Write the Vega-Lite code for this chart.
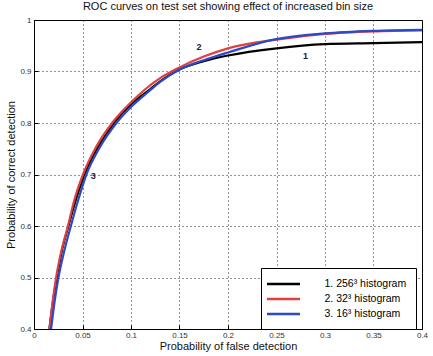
{
  "$schema": "https://vega.github.io/schema/vega-lite/v6.json",
  "autosize": "none",
  "width": 388,
  "height": 309,
  "padding": {"left": 34, "top": 20, "right": 11, "bottom": 27},
  "background": "white",
  "title": {
    "text": "ROC curves on test set showing effect of increased bin size",
    "font": "Liberation Sans",
    "fontSize": 11,
    "fontWeight": "normal",
    "color": "#111",
    "frame": "group",
    "offset": 4
  },
  "datasets": {
    "roc": [
      {"curve": "1. 256³ histogram", "fpr": 0.0159, "pcd": 0.40},
      {"curve": "1. 256³ histogram", "fpr": 0.0193, "pcd": 0.45},
      {"curve": "1. 256³ histogram", "fpr": 0.0235, "pcd": 0.50},
      {"curve": "1. 256³ histogram", "fpr": 0.0285, "pcd": 0.55},
      {"curve": "1. 256³ histogram", "fpr": 0.0355, "pcd": 0.60},
      {"curve": "1. 256³ histogram", "fpr": 0.0430, "pcd": 0.65},
      {"curve": "1. 256³ histogram", "fpr": 0.0520, "pcd": 0.70},
      {"curve": "1. 256³ histogram", "fpr": 0.0650, "pcd": 0.75},
      {"curve": "1. 256³ histogram", "fpr": 0.0825, "pcd": 0.80},
      {"curve": "1. 256³ histogram", "fpr": 0.100, "pcd": 0.836},
      {"curve": "1. 256³ histogram", "fpr": 0.120, "pcd": 0.866},
      {"curve": "1. 256³ histogram", "fpr": 0.130, "pcd": 0.881},
      {"curve": "1. 256³ histogram", "fpr": 0.150, "pcd": 0.904},
      {"curve": "1. 256³ histogram", "fpr": 0.175, "pcd": 0.920},
      {"curve": "1. 256³ histogram", "fpr": 0.200, "pcd": 0.931},
      {"curve": "1. 256³ histogram", "fpr": 0.250, "pcd": 0.945},
      {"curve": "1. 256³ histogram", "fpr": 0.300, "pcd": 0.953},
      {"curve": "1. 256³ histogram", "fpr": 0.350, "pcd": 0.955},
      {"curve": "1. 256³ histogram", "fpr": 0.400, "pcd": 0.957},
      {"curve": "2. 32³ histogram", "fpr": 0.0160, "pcd": 0.40},
      {"curve": "2. 32³ histogram", "fpr": 0.0190, "pcd": 0.45},
      {"curve": "2. 32³ histogram", "fpr": 0.0228, "pcd": 0.50},
      {"curve": "2. 32³ histogram", "fpr": 0.0280, "pcd": 0.55},
      {"curve": "2. 32³ histogram", "fpr": 0.0350, "pcd": 0.60},
      {"curve": "2. 32³ histogram", "fpr": 0.0415, "pcd": 0.65},
      {"curve": "2. 32³ histogram", "fpr": 0.0505, "pcd": 0.70},
      {"curve": "2. 32³ histogram", "fpr": 0.0630, "pcd": 0.75},
      {"curve": "2. 32³ histogram", "fpr": 0.0805, "pcd": 0.80},
      {"curve": "2. 32³ histogram", "fpr": 0.100, "pcd": 0.840},
      {"curve": "2. 32³ histogram", "fpr": 0.115, "pcd": 0.866},
      {"curve": "2. 32³ histogram", "fpr": 0.130, "pcd": 0.887},
      {"curve": "2. 32³ histogram", "fpr": 0.150, "pcd": 0.908},
      {"curve": "2. 32³ histogram", "fpr": 0.175, "pcd": 0.929},
      {"curve": "2. 32³ histogram", "fpr": 0.200, "pcd": 0.945},
      {"curve": "2. 32³ histogram", "fpr": 0.250, "pcd": 0.962},
      {"curve": "2. 32³ histogram", "fpr": 0.300, "pcd": 0.973},
      {"curve": "2. 32³ histogram", "fpr": 0.350, "pcd": 0.978},
      {"curve": "2. 32³ histogram", "fpr": 0.400, "pcd": 0.980},
      {"curve": "3. 16³ histogram", "fpr": 0.0176, "pcd": 0.40},
      {"curve": "3. 16³ histogram", "fpr": 0.0210, "pcd": 0.45},
      {"curve": "3. 16³ histogram", "fpr": 0.0252, "pcd": 0.50},
      {"curve": "3. 16³ histogram", "fpr": 0.0310, "pcd": 0.55},
      {"curve": "3. 16³ histogram", "fpr": 0.0380, "pcd": 0.60},
      {"curve": "3. 16³ histogram", "fpr": 0.0455, "pcd": 0.65},
      {"curve": "3. 16³ histogram", "fpr": 0.0540, "pcd": 0.70},
      {"curve": "3. 16³ histogram", "fpr": 0.0670, "pcd": 0.75},
      {"curve": "3. 16³ histogram", "fpr": 0.0850, "pcd": 0.80},
      {"curve": "3. 16³ histogram", "fpr": 0.100, "pcd": 0.831},
      {"curve": "3. 16³ histogram", "fpr": 0.120, "pcd": 0.864},
      {"curve": "3. 16³ histogram", "fpr": 0.130, "pcd": 0.880},
      {"curve": "3. 16³ histogram", "fpr": 0.150, "pcd": 0.904},
      {"curve": "3. 16³ histogram", "fpr": 0.175, "pcd": 0.922},
      {"curve": "3. 16³ histogram", "fpr": 0.200, "pcd": 0.937},
      {"curve": "3. 16³ histogram", "fpr": 0.247, "pcd": 0.962},
      {"curve": "3. 16³ histogram", "fpr": 0.300, "pcd": 0.974},
      {"curve": "3. 16³ histogram", "fpr": 0.350, "pcd": 0.979},
      {"curve": "3. 16³ histogram", "fpr": 0.400, "pcd": 0.981}
    ],
    "tags": [
      {"tag": "1", "fpr": 0.280, "pcd": 0.930},
      {"tag": "2", "fpr": 0.170, "pcd": 0.948},
      {"tag": "3", "fpr": 0.061, "pcd": 0.697}
    ]
  },
  "layer": [
    {
      "data": {"name": "roc"},
      "mark": {"type": "line", "strokeWidth": 2.2, "clip": true, "interpolate": "monotone"},
      "encoding": {
        "x": {
          "field": "fpr",
          "type": "quantitative",
          "scale": {"domain": [0, 0.4], "nice": false},
          "axis": {
            "title": "Probability of false detection",
            "values": [0, 0.05, 0.1, 0.15, 0.2, 0.25, 0.3, 0.35, 0.4],
            "labelExpr": "format(datum.value, '~g')"
          }
        },
        "y": {
          "field": "pcd",
          "type": "quantitative",
          "scale": {"domain": [0.4, 1], "nice": false, "zero": false},
          "axis": {
            "title": "Probability of correct detection",
            "values": [0.4, 0.5, 0.6, 0.7, 0.8, 0.9, 1],
            "labelExpr": "format(datum.value, '~g')"
          }
        },
        "color": {
          "field": "curve",
          "type": "nominal",
          "scale": {
            "domain": ["1. 256³ histogram", "2. 32³ histogram", "3. 16³ histogram"],
            "range": ["#000000", "#e2403c", "#2d4ac6"]
          },
          "legend": {"title": null}
        },
        "order": {"field": "fpr", "type": "quantitative"}
      }
    },
    {
      "data": {"name": "tags"},
      "mark": {"type": "text", "font": "Liberation Sans", "fontSize": 9, "color": "#222", "fontWeight": "bold"},
      "encoding": {
        "x": {"field": "fpr", "type": "quantitative"},
        "y": {"field": "pcd", "type": "quantitative"},
        "text": {"field": "tag", "type": "nominal"}
      }
    }
  ],
  "config": {
    "view": {"stroke": "#000", "strokeWidth": 1},
    "font": "Liberation Sans",
    "axis": {
      "domainColor": "#000",
      "grid": true,
      "gridColor": "#111",
      "gridDash": [1, 3],
      "gridOpacity": 0.9,
      "gridWidth": 1,
      "tickColor": "#000",
      "tickSize": -4,
      "labelFont": "Liberation Sans",
      "labelFontSize": 8,
      "labelColor": "#333",
      "titleFont": "Liberation Sans",
      "titleFontSize": 11,
      "titleFontWeight": "normal",
      "titleColor": "#111"
    },
    "axisX": {"labelPadding": 6, "titlePadding": 1, "labelFlush": false},
    "axisY": {"labelPadding": 7, "titlePadding": 3, "labelFlush": false},
    "legend": {
      "orient": "none",
      "legendX": 227,
      "legendY": 248,
      "direction": "vertical",
      "fillColor": "white",
      "strokeColor": "#000",
      "padding": 9.5,
      "symbolType": "M-3.3,0H3.3",
      "symbolSize": 100,
      "symbolOffset": 6.5,
      "symbolStrokeWidth": 2.5,
      "labelFont": "Liberation Sans",
      "labelFontSize": 10.5,
      "labelColor": "#000",
      "labelOffset": 34.5,
      "rowPadding": 3
    }
  }
}
